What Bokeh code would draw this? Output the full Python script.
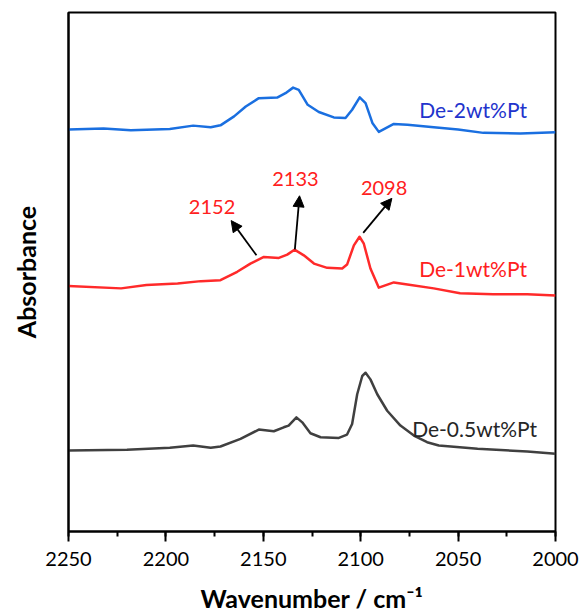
from bokeh.plotting import figure
from bokeh.models import Range1d, SingleIntervalTicker, FixedTicker, Arrow, NormalHead, ColumnDataSource
from bokeh.core.properties import value
from bokeh.embed import file_html
from bokeh.resources import INLINE

# ---- data (wavenumber in cm^-1, absorbance in arbitrary stacked units) ----
wn_2 = [2250, 2232, 2218, 2198, 2186, 2177, 2172, 2165, 2159, 2152.3, 2142.9, 2138.6, 2134.7, 2131.8,
        2127.2, 2121.5, 2113.8, 2107.8, 2104.4, 2100.5, 2097.5, 2094, 2090.7, 2083, 2076, 2062.5,
        2050, 2037, 2018, 2000]
abs_2 = [405, 406, 404.3, 405.7, 409, 407.3, 409.3, 418.3, 428.3, 436.7, 437.3, 441.7, 447.3, 445,
         430, 422.7, 417.3, 416.7, 425, 437.5, 431.7, 411.7, 402.7, 410.7, 410, 407.3,
         405, 401.7, 401, 402.3]

wn_1 = [2250, 2223, 2210, 2194, 2182, 2172, 2163.4, 2156.6, 2149.7, 2142, 2137.7, 2134, 2129.2, 2124,
        2117.2, 2109.5, 2107, 2103.5, 2100.6, 2098.4, 2095, 2090.7, 2083, 2076, 2062.5, 2049, 2032,
        2014.5, 2000]
abs_1 = [247.3, 245, 248.3, 250, 252.3, 253.3, 261.7, 270, 276.7, 275.7, 279, 284, 278.3, 270,
         265.7, 265, 269, 288.3, 297, 290, 265, 245.7, 251, 249, 245, 240, 239,
         239, 237.7]

wn_05 = [2250, 2220, 2198, 2186, 2177, 2172, 2161.7, 2152.3, 2144.6, 2139.5, 2137, 2133, 2130, 2125.8,
         2120.6, 2111.2, 2107, 2104.4, 2101.8, 2099.2, 2097.5, 2095, 2091.5, 2086.4, 2079.6, 2072.7,
         2065.9, 2059.9, 2040, 2014.5, 2000]
abs_05 = [81.7, 82.3, 84.3, 86.7, 84.3, 85.7, 93.3, 102.7, 101, 105, 106.7, 115, 110, 99,
          95, 94.3, 97.7, 108.3, 138.3, 156.7, 160, 153.3, 138.3, 121.7, 106.7, 96.7,
          90, 86.7, 83.3, 80.7, 78.3]

series_names = ["De-0.5wt%Pt", "De-1wt%Pt", "De-2wt%Pt"]
series_colors = ["#404040", "#ff2a2a", "#1a6fe0"]
name_colors = ["#262626", "#ff2020", "#2233cc"]
name_x = [2073.6, 2070, 2070]
name_y = [103.3, 265, 425]

peak_labels = ["2152", "2133", "2098"]
peak_label_x = [2176.3, 2133.5, 2088]
peak_label_y = [326.7, 355, 345.7]
arrow_x0 = [2153.5, 2133.8, 2098.7]
arrow_y0 = [278.3, 284.3, 301]
arrow_x1 = [2166.5, 2131.4, 2084]
arrow_y1 = [313.3, 338.3, 335.7]

x_ticks_interval = 50

FONT = "Lato"

p = figure(width=579, height=615, output_backend="svg", toolbar_location=None,
           x_range=Range1d(2250, 2000), y_range=Range1d(0, 523),
           min_border_left=68, min_border_right=24, min_border_top=12, min_border_bottom=80)

p.xgrid.visible = False
p.ygrid.visible = False
p.outline_line_color = "black"
p.outline_line_width = 2
p.outline_line_alpha = 1

for wn, ab, c in zip([wn_05, wn_1, wn_2], [abs_05, abs_1, abs_2], series_colors):
    p.line(wn, ab, line_color=c, line_width=2.5, line_join="round")

for name, c, x, y in zip(series_names, name_colors, name_x, name_y):
    p.text([x], [y], text=[name], text_color=c, text_font=value(FONT),
           text_font_size="21px", text_align="left", text_baseline="middle")

p.text(peak_label_x, peak_label_y, text=peak_labels, text_color="#ff2020", text_font=value(FONT),
       text_font_size="20px", text_align="center", text_baseline="middle")

arr_src = ColumnDataSource(dict(x0=arrow_x0, y0=arrow_y0, x1=arrow_x1, y1=arrow_y1))
p.add_layout(Arrow(end=NormalHead(size=11, fill_color="black", line_color="black"),
                   x_start="x0", y_start="y0", x_end="x1", y_end="y1",
                   line_color="black", line_width=1.8, source=arr_src))

xa = p.xaxis[0]
xa.ticker = SingleIntervalTicker(interval=x_ticks_interval, num_minor_ticks=2)
xa.axis_label = "Wavenumber / cm\u207b\u00b9"
xa.axis_label_text_font = FONT
xa.axis_label_text_font_style = "bold"
xa.axis_label_text_font_size = "25px"
xa.axis_label_text_color = "black"
xa.axis_label_standoff = 14
xa.major_label_text_font = FONT
xa.major_label_text_font_size = "20px"
xa.major_label_text_color = "black"
xa.major_label_standoff = 10
xa.major_tick_out = 10
xa.major_tick_in = 0
xa.minor_tick_out = 5
xa.minor_tick_in = 0
xa.axis_line_width = 2
xa.major_tick_line_width = 2
xa.minor_tick_line_width = 2

ya = p.yaxis[0]
ya.ticker = FixedTicker(ticks=[])
ya.axis_label = "Absorbance"
ya.axis_label_text_font = FONT
ya.axis_label_text_font_style = "bold"
ya.axis_label_text_font_size = "25px"
ya.axis_label_text_color = "black"
ya.axis_label_standoff = 28
ya.axis_line_width = 2
ya.major_tick_line_color = None
ya.minor_tick_line_color = None

open("out.html", "w").write(file_html(p, INLINE))
